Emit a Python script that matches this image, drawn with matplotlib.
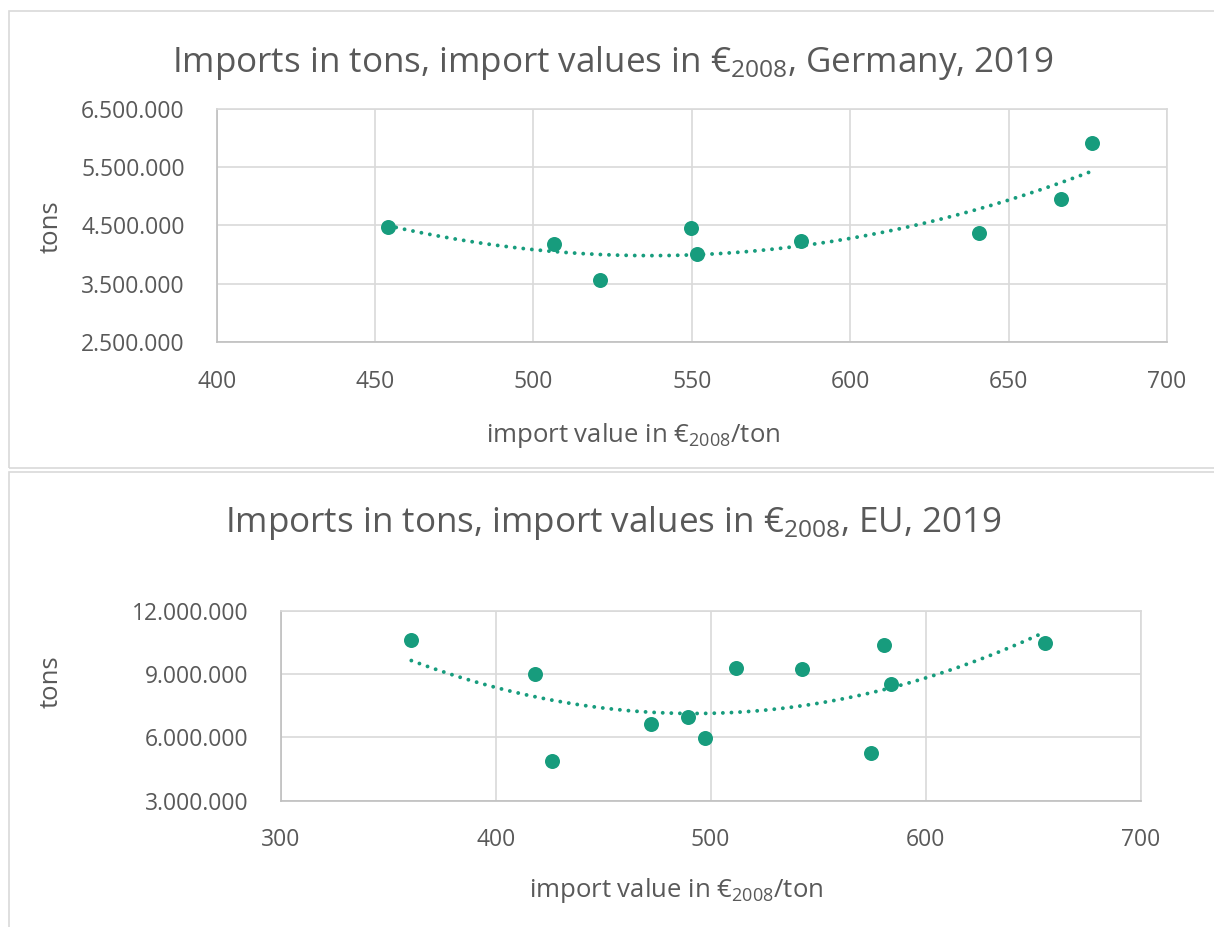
import numpy as np
import matplotlib
matplotlib.use("Agg")
import matplotlib.pyplot as plt
from matplotlib.ticker import FuncFormatter
from matplotlib.patches import Rectangle

# ---- data ----
de_value = [454.0, 506.4, 520.9, 549.6, 551.6, 584.4, 640.8, 666.6, 676.4]
de_tons = [4477000, 4180000, 3563000, 4454000, 4009000, 4237000, 4363000, 4946000, 5906000]

eu_value = [360.8, 418.2, 426.3, 472.1, 489.4, 497.3, 511.7, 542.5, 580.6, 584.0, 574.4, 655.7]
eu_tons = [10620000, 9030000, 4880000, 6620000, 6950000, 5960000, 9300000, 9260000,
           10400000, 8520000, 5250000, 10500000]

de_xticks = [400, 450, 500, 550, 600, 650, 700]
de_yticks = [2500000, 3500000, 4500000, 5500000, 6500000]
eu_xticks = [300, 400, 500, 600, 700]
eu_yticks = [3000000, 6000000, 9000000, 12000000]

de_title = r"Imports in tons, import values in €$_{2008}$, Germany, 2019"
eu_title = r"Imports in tons, import values in €$_{2008}$, EU, 2019"
x_label = r"import value in €$_{2008}$/ton"
y_label = "tons"

# ---- style ----
FONT = "Open Sans"
plt.rcParams["font.family"] = [FONT, "DejaVu Sans"]
plt.rcParams["mathtext.fontset"] = "custom"
plt.rcParams["mathtext.rm"] = FONT
plt.rcParams["mathtext.default"] = "regular"

TXT = "#595959"
GRID = "#D9D9D9"
AXL = "#BFBFBF"
GREEN = "#179C7D"

W, H = 1214, 927
fig = plt.figure(figsize=(W / 100, H / 100), dpi=100)

def fx(px):
    return px / W

def fy(py):
    return 1 - py / H

# panel borders
fig.patches.append(Rectangle((fx(9), fy(468.3)), fx(1240) - fx(9), fy(11.5) - fy(468.3),
                             transform=fig.transFigure, fill=False, ec=GRID, lw=1.2))
fig.patches.append(Rectangle((fx(9), fy(940)), fx(1240) - fx(9), fy(471.7) - fy(940),
                             transform=fig.transFigure, fill=False, ec=GRID, lw=1.2))

fmt = FuncFormatter(lambda v, p: f"{int(round(v)):,}".replace(",", "."))

def panel(rect, xs, ys, xticks, yticks):
    l, t, r, b = rect
    ax = fig.add_axes([fx(l), fy(b), fx(r) - fx(l), fy(t) - fy(b)])
    ax.set_xlim(xticks[0], xticks[-1])
    ax.set_ylim(yticks[0], yticks[-1])
    ax.set_xticks(xticks)
    ax.set_yticks(yticks)
    ax.yaxis.set_major_formatter(fmt)
    ax.grid(True, color=GRID, lw=1.2, zorder=0)
    ax.set_axisbelow(True)
    for s in ["top", "right"]:
        ax.spines[s].set_color(GRID)
        ax.spines[s].set_linewidth(1.2)
    for s in ["left", "bottom"]:
        ax.spines[s].set_color(AXL)
        ax.spines[s].set_linewidth(1.2)
    ax.tick_params(length=0, labelsize=16.5, labelcolor=TXT)
    ax.tick_params(axis="x", pad=20)
    ax.tick_params(axis="y", pad=23)
    ax.scatter(xs, ys, s=(15 * 0.72) ** 2, color=GREEN, zorder=3, lw=0)
    c = np.polyfit(xs, ys, 2)
    tx = np.linspace(min(xs), max(xs), 200)
    ax.plot(tx, np.polyval(c, tx), color=GREEN, lw=2.8, linestyle=(0, (0.01, 2.2)),
            dash_capstyle="round", zorder=4)
    return ax

panel((216.7, 108.7, 1167, 342), de_value, de_tons, de_xticks, de_yticks)
panel((280.6, 611, 1140.7, 800.7), eu_value, eu_tons, eu_xticks, eu_yticks)

# texts
fig.text(fx(613), fy(71.7), de_title, ha="center", va="baseline", fontsize=25.2, color=TXT)
fig.text(fx(613), fy(531.7), eu_title, ha="center", va="baseline", fontsize=25.2, color=TXT)
fig.text(fx(633), fy(441.7), x_label, ha="center", va="baseline", fontsize=18.5, color=TXT)
fig.text(fx(676), fy(896.7), x_label, ha="center", va="baseline", fontsize=18.5, color=TXT)
fig.text(fx(51.4), fy(227), y_label, ha="center", va="center", rotation=90, fontsize=18.5, color=TXT)
fig.text(fx(51.4), fy(682), y_label, ha="center", va="center", rotation=90, fontsize=18.5, color=TXT)

fig.savefig("out.png", dpi=100, facecolor="white")
